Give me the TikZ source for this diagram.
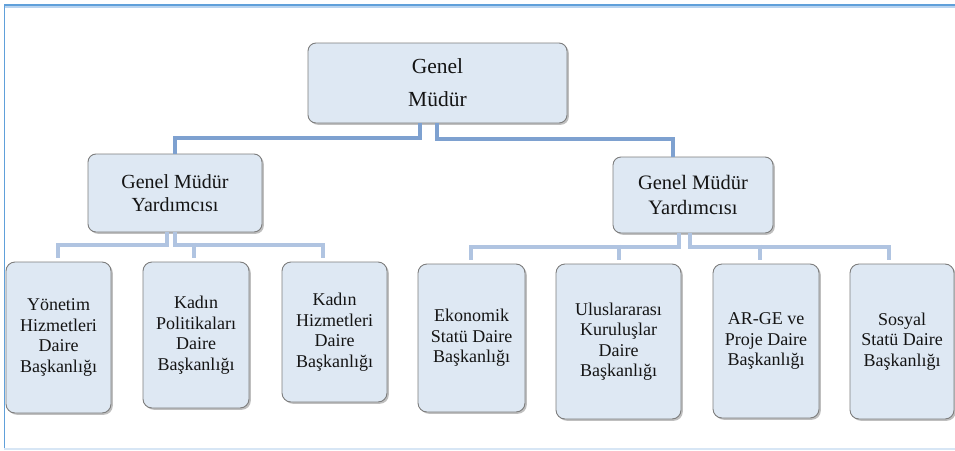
\documentclass[tikz,border=0pt]{standalone}
\usepackage{fontspec}
\setmainfont{Liberation Serif}
\usetikzlibrary{shadows}
\definecolor{boxfill}{RGB}{222,232,243}
\definecolor{boxborder}{RGB}{125,125,125}
\definecolor{txt}{RGB}{20,20,20}
\definecolor{topline}{RGB}{126,161,208}
\definecolor{lowline}{RGB}{176,196,225}
\definecolor{frameblue}{RGB}{96,160,218}
\definecolor{framelight}{RGB}{185,212,240}
\definecolor{framefaint}{RGB}{215,230,245}
\tikzset{
  box/.style={draw=boxborder, line width=0.9pt, fill=boxfill, rounded corners=9pt,
    inner sep=0pt, align=center, text=txt,
    drop shadow={shadow xshift=1.8pt, shadow yshift=-1.8pt, fill=black!50, opacity=0.5}},
  childbox/.style={box, font=\fontsize{18pt}{20.5pt}\selectfont},
  gmybox/.style={box, rounded corners=8pt},
  upline/.style={draw=topline, line width=4.5pt},
  downline/.style={draw=lowline, line width=4pt, shorten >=4pt}
}
\begin{document}
\begin{tikzpicture}[x=1pt,y=-1pt]
\useasboundingbox (0,0) rectangle (955,450);
% frame
\draw[framelight, line width=1.5pt] (4,7.2) -- (955,7.2);
\draw[frameblue, line width=2pt] (4,5) -- (955,5);
\draw[frameblue, line width=1.6pt] (4.5,4) -- (4.5,450);
\draw[framefaint, line width=1.5pt] (4,449) -- (955,449);

% nodes
\node[gmybox, minimum width=259pt, minimum height=80pt,
  font=\fontsize{21.5pt}{33pt}\selectfont] (top) at (437.5,83) {Genel\\Müdür};
\node[gmybox, minimum width=174pt, minimum height=78pt,
  font=\fontsize{20pt}{23.5pt}\selectfont] (lgmy) at (175,193) {Genel Müdür\\Yardımcısı};
\node[gmybox, minimum width=160pt, minimum height=76pt,
  font=\fontsize{20.5pt}{25pt}\selectfont] (rgmy) at (693,195) {Genel Müdür\\Yardımcısı};

\node[childbox, minimum width=105pt, minimum height=151pt] (c1) at (58.5,337.5) {Yönetim\\Hizmetleri\\Daire\\Başkanlığı};
\node[childbox, minimum width=106pt, minimum height=146pt] (c2) at (196,335) {Kadın\\Politikaları\\Daire\\Başkanlığı};
\node[childbox, minimum width=105pt, minimum height=140pt] (c3) at (334.5,332) {Kadın\\Hizmetleri\\Daire\\Başkanlığı};
\node[childbox, minimum width=107pt, minimum height=148pt] (c4) at (471.5,338) {Ekonomik\\Statü Daire\\Başkanlığı};
\node[childbox, minimum width=125pt, minimum height=155pt] (c5) at (618.5,341.5) {Uluslararası\\Kuruluşlar\\Daire\\Başkanlığı};
\node[childbox, minimum width=106pt, minimum height=154pt] (c6) at (766,341) {AR-GE ve\\Proje Daire\\Başkanlığı};
\node[childbox, minimum width=104pt, minimum height=155pt] (c7) at (902,341.5) {Sosyal\\Statü Daire\\Başkanlığı};

% top connectors
\draw[upline] ([xshift=-17.5pt]top.south) -- ++(0,14.5) -| (lgmy.north);
\draw[upline] ([xshift=-0.5pt]top.south) -- ++(0,15.5) -| ([xshift=-20pt]rgmy.north);

% left group connectors
\draw[downline] ([xshift=-8pt]lgmy.south) -- ++(0,13) -| ([xshift=-0.5pt]c1.north);
\draw[downline] (lgmy.south) -- ++(0,13) -| ([xshift=-11.5pt]c3.north);
\draw[downline] ([xshift=-2pt,yshift=19pt]c2.north) -- ([xshift=-2pt]c2.north);

% right group connectors
\draw[downline] ([xshift=-14pt]rgmy.south) -- ++(0,14) -| ([xshift=-0.5pt]c4.north);
\draw[downline] ([xshift=-3pt]rgmy.south) -- ++(0,14) -| ([xshift=-13pt]c7.north);
\draw[downline] ([yshift=19pt]c5.north) -- (c5.north);
\draw[downline] ([xshift=-6pt,yshift=19pt]c6.north) -- ([xshift=-6pt]c6.north);
\end{tikzpicture}
\end{document}
